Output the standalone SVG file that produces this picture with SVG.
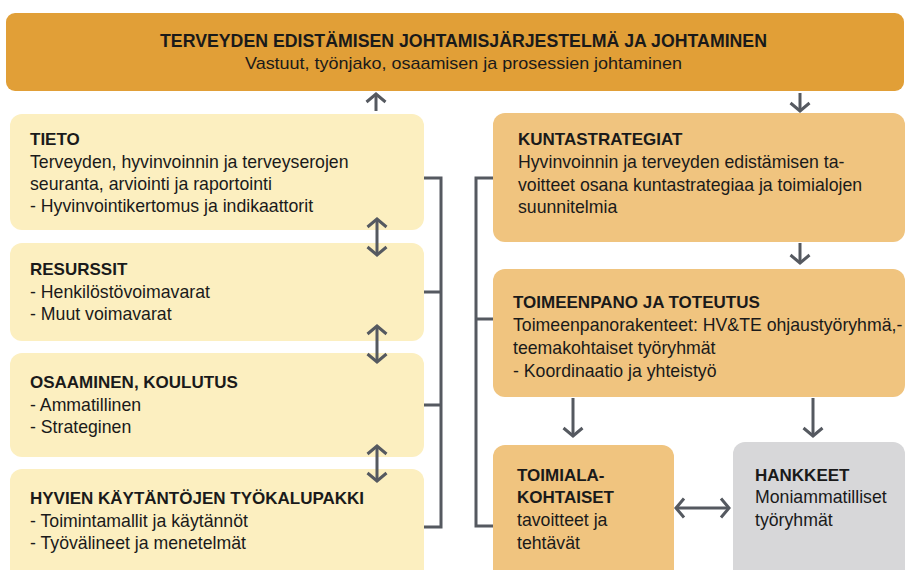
<svg xmlns="http://www.w3.org/2000/svg" width="906" height="570" viewBox="0 0 906 570">
<defs>
<style>
text{font-family:"Liberation Sans",Arial,sans-serif;font-size:17.7px;fill:#1a1a1a}
.b{font-weight:bold;font-size:17px}
.banner{fill:#E19F37}
.yel{fill:#FCEFC0}
.tan{fill:#F0C47F}
.gray{fill:#D7D7D9}
.ln{stroke:#555960;stroke-width:3;fill:none;stroke-linecap:butt;stroke-linejoin:miter}
</style>
<marker id="ah" viewBox="0 0 12 22" refX="10" refY="11" markerWidth="12" markerHeight="22" markerUnits="userSpaceOnUse" orient="auto-start-reverse">
<path d="M2,1.5 L10,11 L2,20.5" fill="none" stroke="#555960" stroke-width="3"/>
</marker>
</defs>
<rect width="906" height="570" fill="#ffffff"/>

<g id="johtamisjarjestelma">
<rect class="banner" x="6" y="13" width="898" height="78" rx="9"/>
<text class="b" x="160" y="47" style="font-size:18px" textLength="607" lengthAdjust="spacingAndGlyphs">TERVEYDEN EDISTÄMISEN JOHTAMISJÄRJESTELMÄ JA JOHTAMINEN</text>
<text x="245" y="69" style="font-size:17px" textLength="437" lengthAdjust="spacingAndGlyphs">Vastuut, työnjako, osaamisen ja prosessien johtaminen</text>
</g>

<g id="tieto">
<rect class="yel" x="10" y="114" width="414" height="116" rx="12"/>
<text class="b" x="30" y="145">TIETO</text>
<text x="30" y="168">Terveyden, hyvinvoinnin ja terveyserojen</text>
<text x="30" y="190">seuranta, arviointi ja raportointi</text>
<text x="30" y="212">- Hyvinvointikertomus ja indikaattorit</text>
</g>

<g id="resurssit">
<rect class="yel" x="10" y="243" width="414" height="98" rx="12"/>
<text class="b" x="30" y="275">RESURSSIT</text>
<text x="30" y="298">- Henkilöstövoimavarat</text>
<text x="30" y="320">- Muut voimavarat</text>
</g>

<g id="osaaminen">
<rect class="yel" x="10" y="353" width="414" height="104" rx="12"/>
<text class="b" x="30" y="388">OSAAMINEN, KOULUTUS</text>
<text x="30" y="411">- Ammatillinen</text>
<text x="30" y="433">- Strateginen</text>
</g>

<g id="tyokalupakki">
<rect class="yel" x="10" y="469" width="414" height="115" rx="12"/>
<text class="b" x="30" y="504">HYVIEN KÄYTÄNTÖJEN TYÖKALUPAKKI</text>
<text x="30" y="527">- Toimintamallit ja käytännöt</text>
<text x="30" y="549">- Työvälineet ja menetelmät</text>
</g>

<g id="kuntastrategiat">
<rect class="tan" x="493" y="113" width="412" height="129" rx="12"/>
<text class="b" x="518" y="145">KUNTASTRATEGIAT</text>
<text x="518" y="168">Hyvinvoinnin ja terveyden edistämisen ta-</text>
<text x="518" y="191">voitteet osana kuntastrategiaa ja toimialojen</text>
<text x="518" y="213">suunnitelmia</text>
</g>

<g id="toimeenpano">
<rect class="tan" x="493" y="269" width="412" height="128" rx="12"/>
<text class="b" x="513" y="308">TOIMEENPANO JA TOTEUTUS</text>
<text x="513" y="331">Toimeenpanorakenteet: HV&amp;TE ohjaustyöryhmä,-</text>
<text x="513" y="354">teemakohtaiset työryhmät</text>
<text x="513" y="377">- Koordinaatio ja yhteistyö</text>
</g>

<g id="toimialakohtaiset">
<rect class="tan" x="493" y="445" width="181" height="140" rx="12"/>
<text class="b" x="517" y="481">TOIMIALA-</text>
<text class="b" x="517" y="503">KOHTAISET</text>
<text x="517" y="526">tavoitteet ja</text>
<text x="517" y="549">tehtävät</text>
</g>

<g id="hankkeet">
<rect class="gray" x="733" y="442" width="172" height="143" rx="12"/>
<text class="b" x="755" y="481">HANKKEET</text>
<text x="755" y="503">Moniammatilliset</text>
<text x="755" y="526">työryhmät</text>
</g>

<g id="connectors">
<line class="ln" x1="376" y1="111" x2="376" y2="94" marker-end="url(#ah)"/>
<line class="ln" x1="800" y1="93" x2="800" y2="111" marker-end="url(#ah)"/>
<line class="ln" x1="377" y1="219" x2="377" y2="255" marker-start="url(#ah)" marker-end="url(#ah)"/>
<line class="ln" x1="377" y1="326" x2="377" y2="362" marker-start="url(#ah)" marker-end="url(#ah)"/>
<line class="ln" x1="377" y1="446" x2="377" y2="481" marker-start="url(#ah)" marker-end="url(#ah)"/>
<path class="ln" d="M424,178 H441 V527 H424 M424,292 H441 M424,405 H441"/>
<path class="ln" d="M493,178 H476 V526 H493 M493,319 H476"/>
<line class="ln" x1="800" y1="243" x2="800" y2="263" marker-end="url(#ah)"/>
<line class="ln" x1="573" y1="398" x2="573" y2="436" marker-end="url(#ah)"/>
<line class="ln" x1="813" y1="398" x2="813" y2="436" marker-end="url(#ah)"/>
<line class="ln" x1="676" y1="508" x2="729" y2="508" marker-start="url(#ah)" marker-end="url(#ah)"/>
</g>
</svg>
